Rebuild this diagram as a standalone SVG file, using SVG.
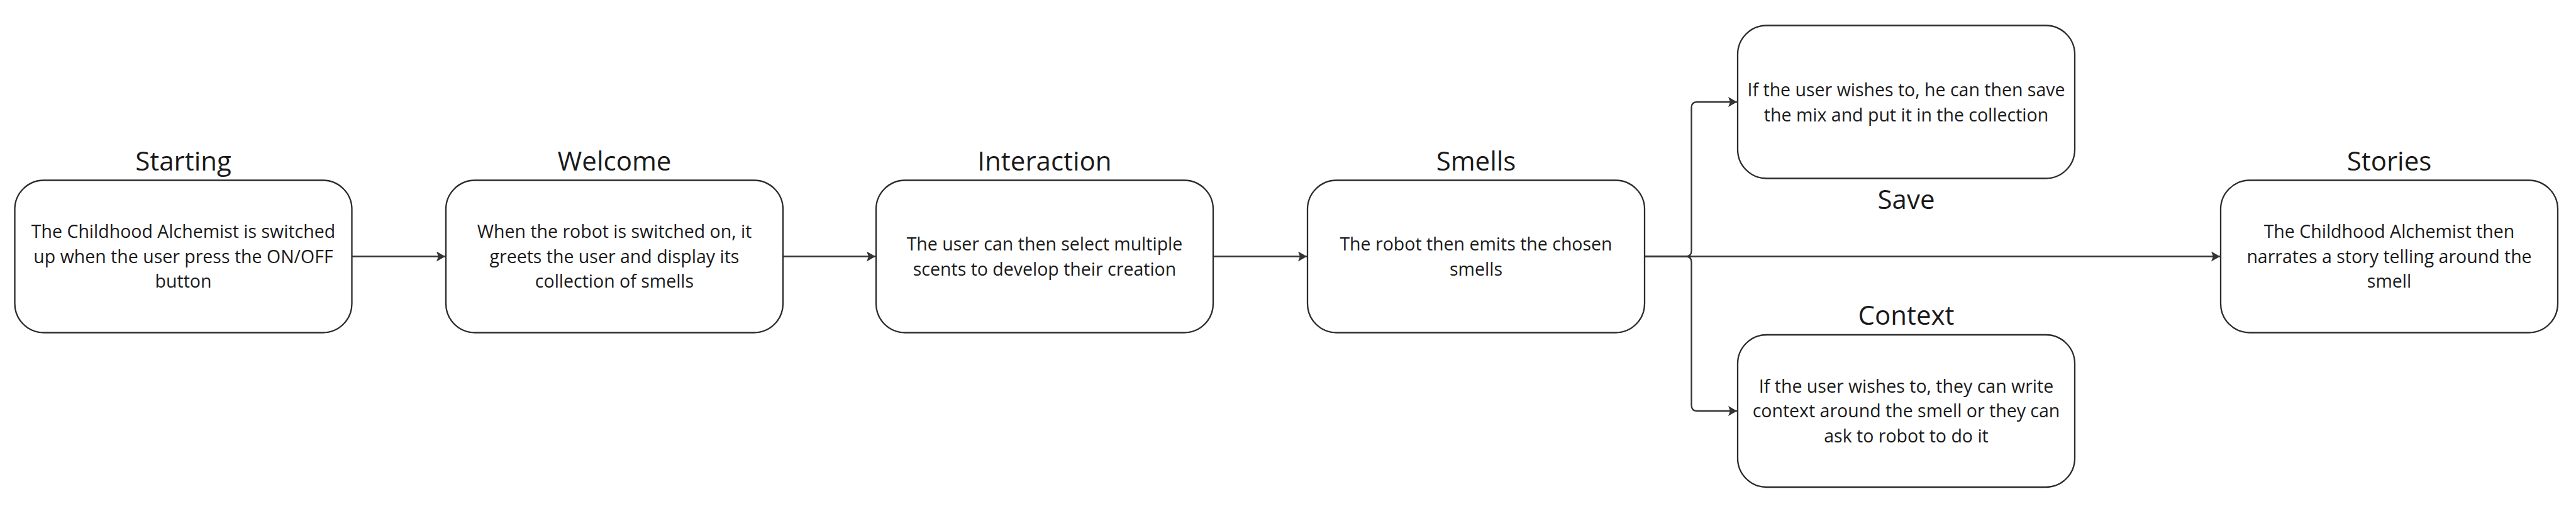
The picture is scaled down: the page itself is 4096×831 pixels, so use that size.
<svg xmlns="http://www.w3.org/2000/svg" width="4096" height="831" viewBox="0 0 4096 831">
<style>
.box{fill:#ffffff;stroke:#2b2b2b;stroke-width:2.3}
.title{font-family:"Open Sans","Liberation Sans",sans-serif;font-size:42px;fill:#1a1a1a;text-anchor:middle}
.body{font-family:"Open Sans","Liberation Sans",sans-serif;font-size:28.5px;fill:#1a1a1a;text-anchor:middle}
.conn{fill:none;stroke:#333333;stroke-width:2.3}
</style>
<defs>
<marker id="arr" markerUnits="userSpaceOnUse" markerWidth="16" markerHeight="18" refX="14" refY="8" orient="auto">
<path d="M0,0 L14,8 L0,16 L3,8 Z" fill="#333333"/>
</marker>
</defs>
<rect width="4096" height="831" fill="#ffffff"/>
<g id="connectors">
<path class="conn" d="M559.5,407.5 H708" marker-end="url(#arr)"/>
<path class="conn" d="M1245,407.5 H1392" marker-end="url(#arr)"/>
<path class="conn" d="M1929,407.5 H2078" marker-end="url(#arr)"/>
<path class="conn" d="M2615,407.5 H3530" marker-end="url(#arr)"/>
<path class="conn" d="M2615,407.5 H2680.5 Q2689.5,407.5 2689.5,398.5 V171 Q2689.5,162 2698.5,162 H2762" marker-end="url(#arr)"/>
<path class="conn" d="M2615,407.5 H2680.5 Q2689.5,407.5 2689.5,416.5 V644 Q2689.5,653 2698.5,653 H2762" marker-end="url(#arr)"/>
</g>
<g id="starting">
<text class="title" x="291.5" y="271">Starting</text>
<rect class="box" x="23.5" y="286.5" width="536" height="242" rx="46"/>
<text class="body" x="291.5" y="378">The Childhood Alchemist is switched</text>
<text class="body" x="291.5" y="417.5">up when the user press the ON/OFF</text>
<text class="body" x="291.5" y="457">button</text>
</g>
<g id="welcome">
<text class="title" x="977" y="271">Welcome</text>
<rect class="box" x="709" y="286.5" width="536" height="242" rx="46"/>
<text class="body" x="977" y="378">When the robot is switched on, it</text>
<text class="body" x="977" y="417.5">greets the user and display its</text>
<text class="body" x="977" y="457">collection of smells</text>
</g>
<g id="interaction">
<text class="title" x="1661" y="271">Interaction</text>
<rect class="box" x="1393" y="286.5" width="536" height="242" rx="46"/>
<text class="body" x="1661" y="398">The user can then select multiple</text>
<text class="body" x="1661" y="437.5">scents to develop their creation</text>
</g>
<g id="smells">
<text class="title" x="2347" y="271">Smells</text>
<rect class="box" x="2079" y="286.5" width="536" height="242" rx="46"/>
<text class="body" x="2347" y="398">The robot then emits the chosen</text>
<text class="body" x="2347" y="437.5">smells</text>
</g>
<g id="save">
<rect class="box" x="2763" y="40.5" width="536" height="243" rx="46"/>
<text class="body" x="3031" y="153">If the user wishes to, he can then save</text>
<text class="body" x="3031" y="192.5">the mix and put it in the collection</text>
<text class="title" x="3031" y="332">Save</text>
</g>
<g id="context">
<text class="title" x="3031" y="515.5">Context</text>
<rect class="box" x="2763" y="532" width="536" height="242" rx="46"/>
<text class="body" x="3031" y="623.5">If the user wishes to, they can write</text>
<text class="body" x="3031" y="663">context around the smell or they can</text>
<text class="body" x="3031" y="702.5">ask to robot to do it</text>
</g>
<g id="stories">
<text class="title" x="3799" y="271">Stories</text>
<rect class="box" x="3531" y="286.5" width="536" height="242" rx="46"/>
<text class="body" x="3799" y="378">The Childhood Alchemist then</text>
<text class="body" x="3799" y="417.5">narrates a story telling around the</text>
<text class="body" x="3799" y="457">smell</text>
</g>
</svg>
